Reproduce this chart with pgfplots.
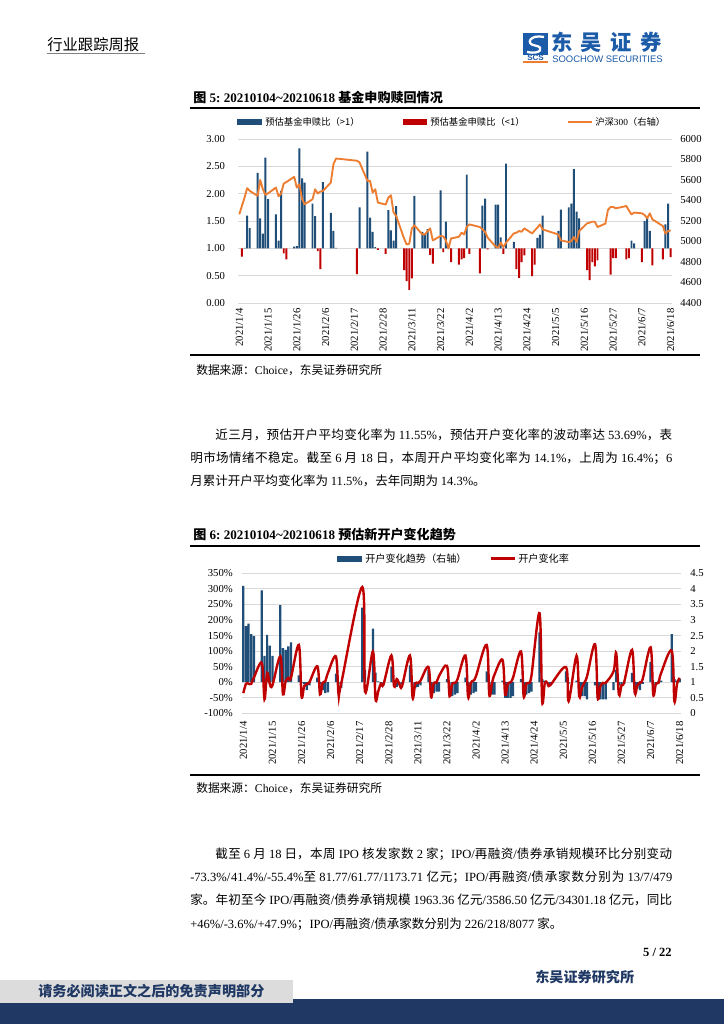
\documentclass[border=0pt]{standalone}
\usepackage{fontspec}
\setmainfont{Liberation Serif}
\newfontfamily\cjk{Noto Sans CJK SC}
\newfontfamily\arial{Liberation Sans}
\usepackage{pgfplots}
\pgfplotsset{compat=1.18}
\definecolor{barblue}{HTML}{1F4E79}
\definecolor{barred}{HTML}{C00000}
\definecolor{hsorange}{HTML}{ED7D31}
\definecolor{navy}{HTML}{1F3864}
\definecolor{logoblue}{HTML}{1C5BA8}
\definecolor{gridgray}{HTML}{D9D9D9}
\definecolor{footgray}{HTML}{DCDCDC}
\XeTeXlinebreaklocale "zh"
\XeTeXlinebreakskip=0pt plus 1.5pt
\newcommand\fs[1]{\fontsize{#1}{#1}\selectfont}
\pgfplotsset{
  mychart/.style={scale only axis, axis line style={draw=none}, major tick length=0pt,
    tick label style={font=\fs{8pt}, inner sep=0pt},
    /pgf/number format/assume math mode=true,
    xmin=-0.5, xmax=165.5, xtick={0,11,...,165},
    xticklabels={2021/1/4,2021/1/15,2021/1/26,2021/2/6,2021/2/17,2021/2/28,2021/3/11,2021/3/22,2021/4/2,2021/4/13,2021/4/24,2021/5/5,2021/5/16,2021/5/27,2021/6/7,2021/6/18}},
  rightaxis/.style={scale only axis, axis line style={draw=none}, major tick length=0pt,
    tick label style={font=\fs{8pt}, inner sep=0pt},
    axis y line*=right, axis x line=none, xmin=-0.5, xmax=165.5}
}
\begin{document}
\begin{tikzpicture}[x=0.75pt,y=-0.75pt]
\useasboundingbox (0,0) rectangle (724,1024);
\fill[white] (0,0) rectangle (724,1024);
% header
\node[anchor=west, inner sep=0, font=\cjk\fs{11.5pt}] at (47,45) {行业跟踪周报};
\draw[gray, line width=0.6pt] (47,53) -- (145,53);
% logo
\fill[logoblue] (523,33) rectangle (548,55);
\draw[white, line width=1.7pt] (544,37) .. controls (530,34) and (525,44) .. (535,45.5) .. controls (545,47) and (541,55) .. (527,52);
\node[font=\arial\bfseries\fs{6pt}, text=logoblue, inner sep=0] at (535.5,58) {SCS};
\fill[hsorange] (523,61.3) rectangle (548,63);
\node[anchor=west, inner sep=0, font=\cjk\bfseries\fs{16pt}, text=logoblue] at (551,42.5) {东\hspace{6.3pt}吴\hspace{6.3pt}证\hspace{6.3pt}券};
\node[anchor=west, inner sep=0, font=\arial\fs{7.1pt}, text=logoblue] at (552,59.5) {SOOCHOW SECURITIES};
% figure 5 title
\node[anchor=west, inner sep=0, font=\bfseries\fs{9.8pt}] at (193,97) {{\cjk 图} 5:\ 20210104\string~20210618 {\cjk 基金申购赎回情况}};
\draw[black, line width=1.1pt] (190,108) -- (700,108);
% legend chart 1
\fill[barblue] (237,118.5) rectangle (262,124.5);
\node[anchor=west, inner sep=0, font=\cjk\fs{7pt}] at (265,121.5) {预估基金申赎比（>1）};
\fill[barred] (403,118.5) rectangle (427,124.5);
\node[anchor=west, inner sep=0, font=\cjk\fs{7pt}] at (430,121.5) {预估基金申赎比（<1）};
\draw[hsorange, line width=1.5pt] (568,121.5) -- (592,121.5);
\node[anchor=west, inner sep=0, font=\cjk\fs{7pt}] at (595,121.5) {沪深{\rmfamily 300}（右轴）};
\begin{scope}[x=1cm,y=1cm]
\begin{axis}[mychart, at={(178.5pt,-227.25pt)}, anchor=south west, width=325.5pt, height=123pt,
  ymin=-1, ymax=2, ytick={-1,-0.5,...,2},
  yticklabels={0.00,0.50,1.00,1.50,2.00,2.50,3.00},
  ymajorgrids, grid style={gridgray, line width=0.75pt},
  yticklabel style={xshift=-9.5pt},
  xticklabel style={yshift=-4pt, rotate=90, anchor=east}]
\addplot[ybar, bar width=0.75, bar shift=0pt, fill=barblue, draw=none, y filter/.expression={y-1}] coordinates {
(2,1.01)(3,1.60)(4,1.37)(7,2.38)(8,1.55)(9,1.27)(10,2.66)(11,1.90)(14,1.62)(15,1.14)(16,2.05)(21,1.03)(22,1.04)(23,2.83)(24,2.28)(25,2.20)(28,1.82)(29,1.59)(32,2.21)(35,1.65)(36,1.32)(37,1.01)(46,1.75)(49,2.77)(50,1.56)(51,1.30)(52,1.02)(57,1.70)(58,1.33)(59,1.14)(60,1.77)(67,1.96)(70,1.30)(71,1.26)(72,1.35)(77,2.06)(79,1.49)(80,1.07)(87,2.35)(93,1.78)(94,1.91)(98,1.80)(99,1.80)(100,1.20)(102,2.55)(105,1.12)(114,1.19)(115,1.25)(116,1.60)(122,1.32)(123,1.71)(126,1.75)(127,1.82)(128,2.45)(129,1.67)(130,1.55)(150,1.14)(151,1.09)(155,1.50)(156,1.55)(157,1.32)(163,1.44)(164,1.82)};
\addplot[ybar, bar width=0.75, bar shift=0pt, fill=barred, draw=none, y filter/.expression={y-1}] coordinates {
(1,0.85)(17,0.91)(18,0.80)(30,0.95)(31,0.62)(45,0.53)(53,0.97)(56,0.90)(63,0.60)(64,0.40)(65,0.24)(66,0.45)(73,0.88)(74,0.72)(78,0.93)(81,0.75)(84,0.70)(85,0.80)(86,0.82)(88,0.90)(92,0.54)(95,0.98)(101,0.90)(106,0.62)(107,0.46)(108,0.75)(109,0.87)(112,0.49)(113,0.70)(133,0.60)(134,0.42)(135,0.75)(136,0.67)(137,0.78)(142,0.52)(143,0.82)(144,0.82)(148,0.80)(149,0.82)(154,0.75)(158,0.69)(162,0.80)(165,0.84)};
\end{axis}
\begin{axis}[rightaxis, at={(178.5pt,-227.25pt)}, anchor=south west, width=325.5pt, height=123pt,
  ymin=4400, ymax=6000, ytick={4400,4600,...,6000},
  yticklabels={4400,4600,4800,5000,5200,5400,5600,5800,6000},
  yticklabel style={xshift=6pt}]
\addplot[hsorange, line width=1.4pt, line join=round, no markers] coordinates {
(0,5265)(1,5347)(2,5428)(3,5520)(4,5494)(7,5445)(8,5600)(9,5510)(10,5455)(11,5470)(14,5526)(15,5442)(16,5468)(17,5566)(18,5580)(21,5631)(22,5526)(23,5559)(24,5412)(25,5363)(28,5412)(29,5510)(30,5468)(31,5487)(32,5494)(35,5575)(36,5755)(37,5810)(45,5788)(46,5771)(49,5592)(50,5592)(51,5477)(52,5510)(53,5380)(56,5360)(57,5428)(58,5451)(59,5282)(60,5249)(63,5030)(64,4971)(65,4978)(66,5128)(67,5157)(70,5069)(71,5069)(72,5102)(73,5128)(74,5011)(77,5053)(78,5050)(79,5011)(80,4932)(81,5030)(84,5046)(85,5086)(86,5069)(87,5144)(88,5167)(92,5141)(93,5118)(94,5095)(95,5037)(98,4952)(99,4939)(100,4988)(101,4945)(102,4988)(105,5079)(106,5086)(107,5102)(108,5095)(109,5128)(112,5079)(113,5108)(114,5135)(115,5167)(116,5118)(122,5069)(123,5011)(126,4994)(127,5004)(128,5043)(129,4997)(130,5102)(133,5177)(134,5184)(135,5193)(136,5193)(137,5141)(140,5174)(141,5308)(142,5337)(143,5337)(144,5324)(147,5340)(148,5347)(149,5304)(150,5265)(151,5282)(154,5275)(155,5259)(156,5226)(157,5275)(158,5216)(162,5151)(163,5076)(164,5102)(165,5108)};
\end{axis}
\end{scope}
\draw[black, line width=1.1pt] (190,355) -- (700,355);
\node[anchor=west, inner sep=0, font=\fs{8.8pt}] at (196,370) {{\cjk 数据来源：}Choice{\cjk ，东吴证券研究所}};
% paragraph 1
\node[anchor=north west, inner sep=0, text width=361.5pt, align=justify, font=\cjk\fontsize{9.4pt}{17.4pt}\selectfont] at (190,428.5) {\hspace*{18.8pt}近三月，预估开户平均变化率为 {\rmfamily 11.55\%}，预估开户变化率的波动率达 {\rmfamily 53.69\%}，表\linebreak 明市场情绪不稳定。截至 {\rmfamily 6} 月 {\rmfamily 18} 日，本周开户平均变化率为 {\rmfamily 14.1\%}，上周为 {\rmfamily 16.4\%}；{\rmfamily 6}\linebreak 月累计开户平均变化率为 {\rmfamily 11.5\%}，去年同期为 {\rmfamily 14.3\%}。};
% figure 6 title
\node[anchor=west, inner sep=0, font=\bfseries\fs{9.8pt}] at (193,535) {{\cjk 图} 6:\ 20210104\string~20210618 {\cjk 预估新开户变化趋势}};
\draw[black, line width=1.1pt] (190,546) -- (700,546);
\fill[barblue] (337,555.5) rectangle (362,561.5);
\node[anchor=west, inner sep=0, font=\cjk\fs{7.6pt}] at (365,558.5) {开户变化趋势（右轴）};
\draw[barred, line width=2pt] (491,558.5) -- (515,558.5);
\node[anchor=west, inner sep=0, font=\cjk\fs{7.6pt}] at (518,558.5) {开户变化率};
\begin{scope}[x=1cm,y=1cm]
\begin{axis}[mychart, at={(181.5pt,-535pt)}, anchor=south west, width=329.25pt, height=105pt,
  ymin=-100, ymax=350, ytick={-100,-50,...,350},
  yticklabels={-100\%,-50\%,0\%,50\%,100\%,150\%,200\%,250\%,300\%,350\%},
  ymajorgrids, grid style={gridgray, line width=0.75pt},
  yticklabel style={xshift=-6.75pt},
  xticklabel style={yshift=-6pt, rotate=90, anchor=east}]
\addplot[ybar, bar width=0.85, bar shift=0pt, fill=barblue, draw=none] coordinates {
(0,310)(1,180)(2,188)(3,155)(4,148)(7,295)(8,85)(9,152)(10,118)(11,85)(14,248)(15,110)(16,104)(17,115)(18,128)(21,22)(22,-3)(23,-7)(24,-25)(25,-10)(28,15)(29,-8)(30,-25)(31,-35)(32,-33)(35,28)(36,-5)(37,-18)(45,240)(46,40)(49,172)(50,31)(51,3)(52,-3)(53,-10)(56,50)(57,-10)(58,-15)(59,-10)(60,-5)(63,54)(64,-15)(65,-20)(66,-15)(67,-10)(70,40)(71,-35)(72,-35)(73,-30)(74,-30)(77,10)(78,-45)(79,-45)(80,-40)(81,-35)(84,15)(85,-40)(86,-40)(87,-35)(88,-30)(92,35)(93,-25)(94,-40)(95,-40)(98,5)(99,-50)(100,-50)(101,-50)(102,-45)(105,10)(106,-40)(107,-40)(108,-35)(109,-30)(112,160)(113,10)(114,5)(115,0)(116,-5)(122,35)(123,-5)(126,5)(127,-30)(128,-45)(129,-45)(130,-55)(133,-10)(134,-50)(135,-55)(136,-55)(137,-55)(140,-25)(141,40)(142,-10)(143,-10)(144,-5)(147,30)(148,-15)(149,-20)(150,-25)(151,-5)(154,65)(155,-10)(156,-10)(157,5)(158,5)(162,155)(163,10)(164,5)(165,10)};
\addplot[barred, line width=1.8pt, smooth, tension=0.55, no markers] coordinates {
(0,-35)(1,-5)(2,-5)(3,-5)(4,15)(7,62)(8,-55)(9,30)(10,-5)(11,-10)(14,83)(15,-39)(16,3)(17,14)(18,14)(21,120)(22,-45)(23,-13)(24,-5)(25,0)(28,51)(29,-39)(30,-2)(31,3)(32,30)(35,83)(36,-37)(37,-5)(45,306)(46,-30)(49,99)(50,-55)(51,-30)(52,-5)(53,-7)(56,86)(57,-13)(58,10)(59,-5)(60,-13)(63,86)(64,-50)(65,-5)(66,-2)(67,5)(70,49)(71,-48)(72,-2)(73,-2)(74,20)(77,53)(78,-45)(79,-5)(80,-2)(81,10)(84,86)(85,-48)(86,-2)(87,5)(88,20)(92,120)(93,-40)(94,-5)(95,25)(98,72)(99,-40)(100,-5)(101,0)(102,15)(105,99)(106,-45)(107,-5)(108,-2)(109,24)(112,222)(113,-61)(114,-2)(115,-2)(116,-10)(122,49)(123,-61)(126,85)(127,-45)(128,-18)(129,0)(130,20)(133,122)(134,-50)(135,-13)(136,-2)(137,-2)(140,35)(141,94)(142,-39)(143,-10)(144,0)(147,104)(148,-34)(149,-10)(150,0)(151,10)(154,112)(155,-39)(156,-5)(157,-2)(158,30)(162,101)(163,-61)(164,-5)(165,14)};
\end{axis}
\begin{axis}[rightaxis, at={(181.5pt,-535pt)}, anchor=south west, width=329.25pt, height=105pt,
  ymin=0, ymax=4.5, ytick={0,0.5,...,4.5},
  yticklabels={0,0.5,1,1.5,2,2.5,3,3.5,4,4.5},
  yticklabel style={xshift=6.75pt}]
\addplot[draw=none, forget plot] coordinates {(0,0)};
\end{axis}
\end{scope}
\draw[black, line width=1.1pt] (190,775) -- (700,775);
\node[anchor=west, inner sep=0, font=\fs{8.8pt}] at (196,788) {{\cjk 数据来源：}Choice{\cjk ，东吴证券研究所}};
% paragraph 2
\node[anchor=north west, inner sep=0, text width=361.5pt, align=justify, font=\cjk\fontsize{9.4pt}{17.4pt}\selectfont] at (190,847.5) {\hspace*{18.8pt}截至 {\rmfamily 6} 月 {\rmfamily 18} 日，本周 {\rmfamily IPO} 核发家数 {\rmfamily 2} 家；{\rmfamily IPO/}再融资{\rmfamily /}债券承销规模环比分别变动\linebreak {\rmfamily -73.3\%/41.4\%/-55.4\%}至 {\rmfamily 81.77/61.77/1173.71} 亿元；{\rmfamily IPO/}再融资{\rmfamily /}债承家数分别为 {\rmfamily 13/7/479}\linebreak 家。年初至今 {\rmfamily IPO/}再融资{\rmfamily /}债券承销规模 {\rmfamily 1963.36} 亿元{\rmfamily /3586.50} 亿元{\rmfamily /34301.18} 亿元，同比\linebreak {\rmfamily +46\%/-3.6\%/+47.9\%}；{\rmfamily IPO/}再融资{\rmfamily /}债承家数分别为 {\rmfamily 226/218/8077} 家。};
% page number and footer
\node[anchor=east, inner sep=0, font=\bfseries\fs{9.4pt}] at (672,952) {5 / 22};
\node[anchor=west, inner sep=0, font=\cjk\bfseries\fs{10.6pt}, text=navy] at (535,977) {东吴证券研究所};
\fill[navy] (0,999) rectangle (724,1024);
\fill[footgray] (0,980) rectangle (293,1003);
\node[anchor=west, inner sep=0, font=\cjk\bfseries\fs{10.6pt}, text=navy] at (38,991.5) {请务必阅读正文之后的免责声明部分};
\end{tikzpicture}
\end{document}
